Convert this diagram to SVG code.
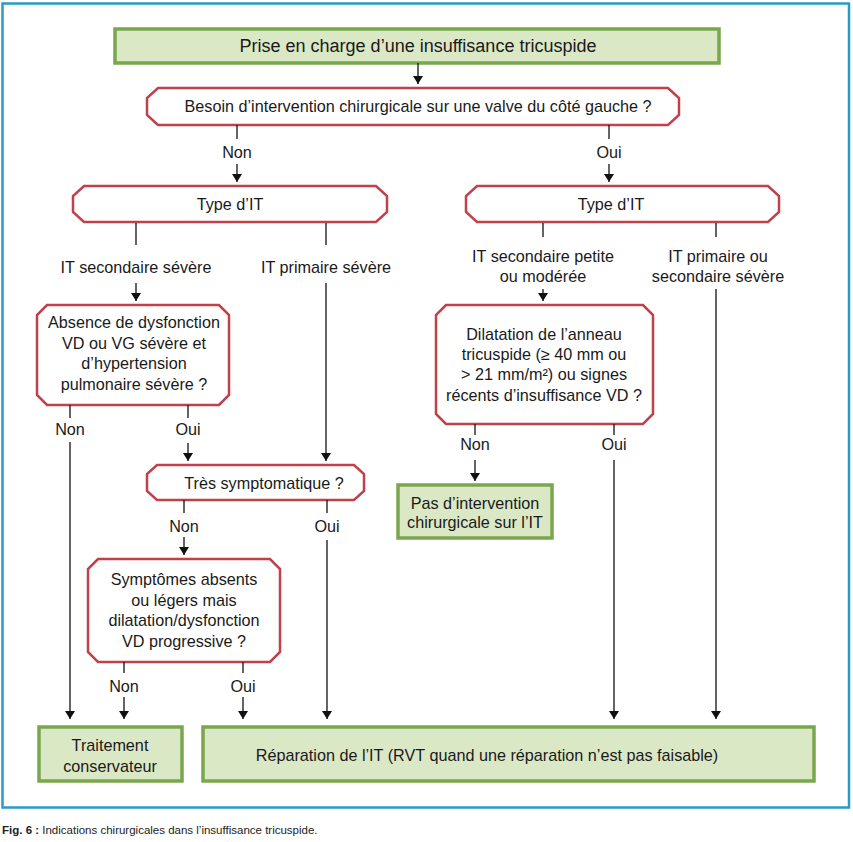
<svg xmlns="http://www.w3.org/2000/svg" width="853" height="842" viewBox="0 0 853 842">
<style>
.t{font-family:"Liberation Sans",Arial,sans-serif;font-size:16.2px;fill:#1a1a1a;text-anchor:middle;dominant-baseline:central}
.big{font-size:18px}
.g{fill:#dbe8c6;stroke:#7aa64c;stroke-width:3.5}
.r{fill:#fff;stroke:#c0414a;stroke-width:2.5}
.c line{stroke:#111;stroke-width:1.3}
.cap{font-family:"Liberation Sans",Arial,sans-serif;font-size:11.5px;fill:#222}
</style>
<defs>
<marker id="a" viewBox="0 0 8 10" refX="8" refY="5" markerWidth="8" markerHeight="10" markerUnits="userSpaceOnUse" orient="auto">
<path d="M0,0 L8,5 L0,10 Z" fill="#111"/>
</marker>
</defs>
<rect x="0" y="0" width="853" height="842" fill="#fff"/>
<rect x="2.5" y="3.5" width="846.5" height="804" fill="none" stroke="#2a9bc6" stroke-width="2.5"/>

<g id="n-top"><rect class="g" x="115" y="29" width="604" height="34"/><text class="t big" x="418" y="46">Prise en charge d’une insuffisance tricuspide</text></g>

<g id="n-besoin"><path class="r" d="M158,88 H668 L679,98 V115 L668,125 H158 L147,115 V98 Z"/><text class="t" x="418" y="106">Besoin d’intervention chirurgicale sur une valve du côté gauche ?</text></g>

<g id="n-type-l"><path class="r" d="M84,186 H376 L387,196 V212 L376,222 H84 L73,212 V196 Z"/><text class="t" x="230" y="204">Type d’IT</text></g>

<g id="n-type-r"><path class="r" d="M477,186 H768 L779,196 V212 L768,222 H477 L466,212 V196 Z"/><text class="t" x="611" y="204">Type d’IT</text></g>

<g id="n-absence"><path class="r" d="M47,305 H219 L229,315 V395 L219,405 H47 L37,395 V315 Z"/><text class="t" x="134"><tspan x="134" y="322">Absence de dysfonction</tspan><tspan x="134" y="343">VD ou VG sévère et</tspan><tspan x="134" y="363">d’hypertension</tspan><tspan x="134" y="384">pulmonaire sévère ?</tspan></text></g>

<g id="n-dilatation"><path class="r" d="M446,305 H643 L653,315 V414 L643,424 H446 L436,414 V315 Z"/><text class="t" x="544"><tspan x="544" y="334">Dilatation de l’anneau</tspan><tspan x="544" y="354">tricuspide (≥ 40 mm ou</tspan><tspan x="544" y="374">&gt; 21 mm/m²) ou signes</tspan><tspan x="544" y="395">récents d’insuffisance VD ?</tspan></text></g>

<g id="n-pas"><rect class="g" x="398" y="485" width="154" height="53"/><text class="t" x="475"><tspan x="475" y="503">Pas d’intervention</tspan><tspan x="475" y="522">chirurgicale sur l’IT</tspan></text></g>

<g id="n-tres"><path class="r" d="M157,465 H354 L364,474 V491 L354,500 H157 L147,491 V474 Z"/><text class="t" x="264" y="483">Très symptomatique ?</text></g>

<g id="n-symptomes"><path class="r" d="M98,559 H270 L280,569 V652 L270,662 H98 L88,652 V569 Z"/><text class="t" x="184"><tspan x="184" y="579">Symptômes absents</tspan><tspan x="184" y="600">ou légers mais</tspan><tspan x="184" y="620">dilatation/dysfonction</tspan><tspan x="184" y="641">VD progressive ?</tspan></text></g>

<g id="n-traitement"><rect class="g" x="39" y="727" width="143" height="54"/><text class="t" x="110"><tspan x="110" y="745">Traitement</tspan><tspan x="110" y="766">conservateur</tspan></text></g>

<g id="n-reparation"><rect class="g" x="203" y="727" width="611" height="54"/><text class="t" x="487" y="755">Réparation de l’IT (RVT quand une réparation n’est pas faisable)</text></g>

<g id="connectors" class="c">
<line x1="418" y1="63" x2="418" y2="84" marker-end="url(#a)"/>
<line x1="237" y1="125" x2="237" y2="139"/>
<line x1="237" y1="164" x2="237" y2="182" marker-end="url(#a)"/>
<line x1="609" y1="125" x2="609" y2="139"/>
<line x1="609" y1="164" x2="609" y2="182" marker-end="url(#a)"/>
<line x1="136" y1="223" x2="136" y2="245"/>
<line x1="136" y1="283" x2="136" y2="301" marker-end="url(#a)"/>
<line x1="326" y1="223" x2="326" y2="245"/>
<line x1="326" y1="283" x2="326" y2="461" marker-end="url(#a)"/>
<line x1="543" y1="223" x2="543" y2="237"/>
<line x1="543" y1="289" x2="543" y2="301" marker-end="url(#a)"/>
<line x1="716" y1="223" x2="716" y2="237"/>
<line x1="716" y1="289" x2="716" y2="719" marker-end="url(#a)"/>
<line x1="70" y1="405" x2="70" y2="418"/>
<line x1="70" y1="442" x2="70" y2="719" marker-end="url(#a)"/>
<line x1="188" y1="405" x2="188" y2="418"/>
<line x1="188" y1="443" x2="188" y2="461" marker-end="url(#a)"/>
<line x1="475" y1="424" x2="475" y2="435"/>
<line x1="475" y1="460" x2="475" y2="481" marker-end="url(#a)"/>
<line x1="614" y1="424" x2="614" y2="435"/>
<line x1="614" y1="460" x2="614" y2="719" marker-end="url(#a)"/>
<line x1="184" y1="500" x2="184" y2="513"/>
<line x1="184" y1="537" x2="184" y2="555" marker-end="url(#a)"/>
<line x1="327" y1="500" x2="327" y2="513"/>
<line x1="327" y1="540" x2="327" y2="719" marker-end="url(#a)"/>
<line x1="124" y1="662" x2="124" y2="673"/>
<line x1="124" y1="697" x2="124" y2="719" marker-end="url(#a)"/>
<line x1="243" y1="662" x2="243" y2="673"/>
<line x1="243" y1="697" x2="243" y2="719" marker-end="url(#a)"/>
</g>

<g id="labels">
<text class="t" x="237" y="152">Non</text>
<text class="t" x="609" y="152">Oui</text>
<text class="t" x="136" y="267">IT secondaire sévère</text>
<text class="t" x="326" y="267">IT primaire sévère</text>
<text class="t"><tspan x="543" y="256">IT secondaire petite</tspan><tspan x="543" y="276">ou modérée</tspan></text>
<text class="t"><tspan x="718" y="256">IT primaire ou</tspan><tspan x="718" y="276">secondaire sévère</tspan></text>
<text class="t" x="70" y="429">Non</text>
<text class="t" x="188" y="429">Oui</text>
<text class="t" x="475" y="444">Non</text>
<text class="t" x="614" y="444">Oui</text>
<text class="t" x="184" y="526">Non</text>
<text class="t" x="327" y="526">Oui</text>
<text class="t" x="124" y="686">Non</text>
<text class="t" x="243" y="686">Oui</text>
</g>

<text class="cap" x="2" y="834"><tspan font-weight="bold">Fig. 6 :</tspan> Indications chirurgicales dans l’insuffisance tricuspide.</text>
</svg>
